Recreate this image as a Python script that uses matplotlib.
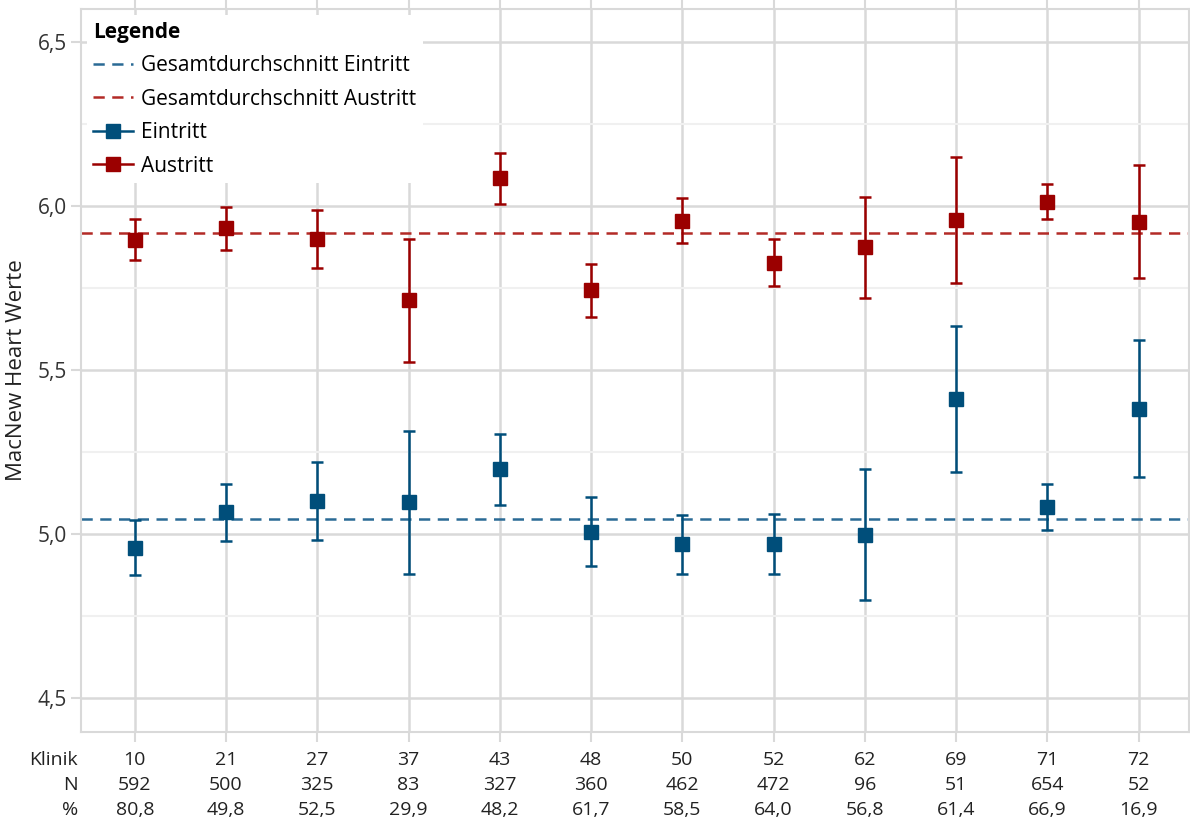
#!/usr/bin/env python

import matplotlib.pyplot as plt
import matplotlib.transforms as mtransforms
from matplotlib.lines import Line2D
import numpy as np

plt.rcParams["font.family"] = ["Open Sans", "DejaVu Sans"]

# data
klinik = ["10", "21", "27", "37", "43", "48", "50", "52", "62", "69", "71", "72"]
n_pat = ["592", "500", "325", "83", "327", "360", "462", "472", "96", "51", "654", "52"]
prozent = ["80,8", "49,8", "52,5", "29,9", "48,2", "61,7", "58,5", "64,0", "56,8", "61,4", "66,9", "16,9"]

eintritt = [4.958, 5.066, 5.100, 5.097, 5.197, 5.007, 4.969, 4.969, 4.997, 5.412, 5.081, 5.382]
eintritt_lo = [4.876, 4.979, 4.982, 4.878, 5.087, 4.903, 4.877, 4.878, 4.799, 5.188, 5.012, 5.172]
eintritt_hi = [5.041, 5.152, 5.219, 5.314, 5.305, 5.112, 5.057, 5.061, 5.197, 5.635, 5.152, 5.591]

austritt = [5.896, 5.934, 5.899, 5.713, 6.084, 5.742, 5.954, 5.827, 5.874, 5.957, 6.012, 5.950]
austritt_lo = [5.835, 5.866, 5.811, 5.525, 6.006, 5.662, 5.886, 5.756, 5.720, 5.764, 5.959, 5.780]
austritt_hi = [5.960, 5.998, 5.988, 5.900, 6.161, 5.824, 6.023, 5.899, 6.028, 6.148, 6.066, 6.124]

mittel_eintritt = 5.045
mittel_austritt = 5.917

blau = "#004e7a"
rot = "#9b0000"
blau_hell = "#2a6a95"
rot_hell = "#b32a26"
grid = "#d9d9d9"
strich = (0, (4.5, 3))

x = np.arange(len(klinik))

fig = plt.figure(figsize=(11.9, 8.22), dpi=100)
ax = fig.add_axes([0.068, 0.1095, 0.931, 0.8795])

ax.axhline(mittel_eintritt, color=blau_hell, lw=1.8, ls=strich, zorder=2)
ax.axhline(mittel_austritt, color=rot_hell, lw=1.8, ls=strich, zorder=2)

e = np.array(eintritt)
a = np.array(austritt)
ax.errorbar(x, e, yerr=[e - np.array(eintritt_lo), np.array(eintritt_hi) - e],
            fmt="s", color=blau, ms=10, lw=1.8, capsize=4.5, capthick=1.8, zorder=3)
ax.errorbar(x, a, yerr=[a - np.array(austritt_lo), np.array(austritt_hi) - a],
            fmt="s", color=rot, ms=10, lw=1.8, capsize=4.5, capthick=1.8, zorder=3)

ax.set_xlim(-0.59, 11.55)
ax.set_ylim(4.396, 6.6)
ax.set_xticks(x)
ax.set_xticklabels([])
ax.set_yticks([4.5, 5.0, 5.5, 6.0, 6.5])
ax.set_yticklabels(["4,5", "5,0", "5,5", "6,0", "6,5"], fontsize=15, color="#333333")
ax.set_yticks([4.75, 5.25, 5.75, 6.25], minor=True)
ax.tick_params(axis="y", which="major", length=7, color=grid, width=1.5, pad=3)
ax.tick_params(axis="y", which="minor", length=0)
ax.tick_params(axis="x", length=7, color=grid, width=1.5, top=True)
ax.grid(which="major", color=grid, lw=1.8, zorder=0)
ax.grid(which="minor", axis="y", color="#f0f0f0", lw=1.5, zorder=0)
ax.set_axisbelow(True)
for s in ax.spines.values():
    s.set_edgecolor(grid)
    s.set_linewidth(1.5)

ax.set_ylabel("MacNew Heart Werte", fontsize=16, color="#222222", labelpad=8)

# table under the plot
trans = mtransforms.blended_transform_factory(ax.transData, ax.transAxes)
for row, (name, werte) in enumerate([("Klinik", klinik), ("N", n_pat), ("%", prozent)]):
    yy = -0.039 - 0.0345 * row
    ax.text(-0.62, yy, name, transform=trans, ha="right", va="center",
            fontsize=14, color="#222222")
    for xi, w in zip(x, werte):
        ax.text(xi, yy, w, transform=trans, ha="center", va="center",
                fontsize=14, color="#222222")

handles = [
    Line2D([], [], color=blau_hell, lw=1.8, ls=strich),
    Line2D([], [], color=rot_hell, lw=1.8, ls=strich),
    Line2D([], [], color=blau, lw=1.8, marker="s", ms=10),
    Line2D([], [], color=rot, lw=1.8, marker="s", ms=10),
]
labels = ["Gesamtdurchschnitt Eintritt", "Gesamtdurchschnitt Austritt", "Eintritt", "Austritt"]
leg = ax.legend(handles, labels, loc="upper left", title="Legende", fontsize=15,
                title_fontproperties={"weight": "bold", "size": 15},
                alignment="left", frameon=True, fancybox=False,
                edgecolor="none", facecolor="white", framealpha=1,
                handlelength=1.9, handletextpad=0.4, borderpad=0.3,
                labelspacing=0.6, borderaxespad=0.3)

plt.savefig("out.png", dpi=100)
